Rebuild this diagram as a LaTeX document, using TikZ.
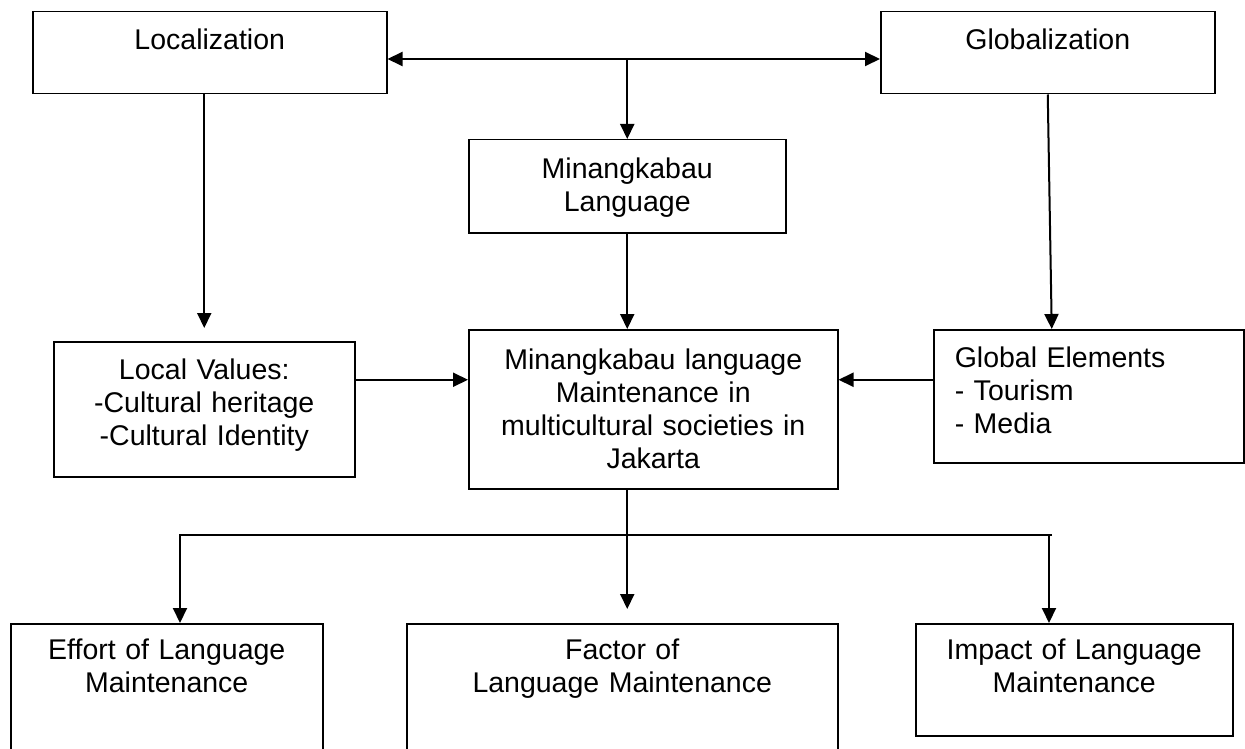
\documentclass[tikz,border=0pt]{standalone}
\usepackage{fontspec}
\setmainfont{Liberation Sans}
\usetikzlibrary{arrows.meta}
\tikzset{>/.tip={Triangle[length=15pt,width=14pt]}}
\tikzset{box/.style={draw,line width=1.5pt,inner sep=0pt,align=center,anchor=north west}}

\begin{document}
\begin{tikzpicture}[x=1pt,y=-1pt,line width=2pt,font=\fontsize{28.5}{33}\selectfont]
        \useasboundingbox (0,0) rectangle (1245,749);
        \clip (0,0) rectangle (1245,749);
        \node(Loc)[box,text width=354pt,text height=38pt,text depth=44pt] at (32,11){Localization};
        \node(Glob)[box,text width=334pt,text height=38pt,text depth=44pt] at (880,11){Globalization};
        \node(MinLang)[box,text width=317pt,text height=39pt,text depth=54pt] at (468,139){Minangkabau\\Language};
        \node(LocVal)[box,text width=301pt,text height=38pt,text depth=97pt] at (53,341){Local Values:\\-Cultural heritage\\-Cultural Identity};
        \node(Maint)[box,text width=369pt,text height=40pt,text depth=119pt] at (468,329){Minangkabau language\\Maintenance in\\multicultural societies in\\Jakarta};
        \node(GlobEl)[box,align=left,inner xsep=21pt,text width=268pt,text height=38pt,text depth=95pt] at (933,329){Global Elements\\- Tourism\\- Media};
        \node(Eff)[box,text width=312pt,text height=36pt,text depth=160pt] at (10,623){Effort of Language\\Maintenance};
        \node(Fac)[box,text width=431pt,text height=36pt,text depth=160pt] at (406,623){Factor of\\Language Maintenance};
        \node(Imp)[box,text width=317pt,text height=36pt,text depth=76pt] at (915,623){Impact of Language\\Maintenance};
        \coordinate(top) at (MinLang.north |- 0,59);
        \coordinate(lvout) at ([yshift=29.5pt]LocVal.east);
        \coordinate(geout) at ([yshift=16.5pt]GlobEl.west);
        \coordinate(busL) at (180,535);
        \coordinate(busR) at (1052,535);
        \draw
        (top) edge[->] (Loc.east |- top)
        (top) edge[->] (Glob.west |- top)
        (top) edge[->] (MinLang.north);
        \draw[->] (Loc.south -| LocVal.north) -- ([yshift=13pt]LocVal.north);
        \draw[->] (MinLang.south) -- (MinLang.south |- Maint.north);
        \draw[->] (Glob.south) -- ([xshift=4pt]Glob.south |- GlobEl.north);
        \draw[->] (lvout) -- (lvout -| Maint.west);
        \draw[->] (geout) -- (geout -| Maint.east);
        \draw[->] (MinLang.south |- Maint.south) -- ([yshift=14pt]MinLang.south |- Fac.north);
        \draw[->] (busR) -- (busL) -- (busL |- Eff.north);
        \draw[->] ([xshift=-3pt]busR) -- ([xshift=-3pt]busR |- Imp.north);
      \end{tikzpicture}
\end{document}
